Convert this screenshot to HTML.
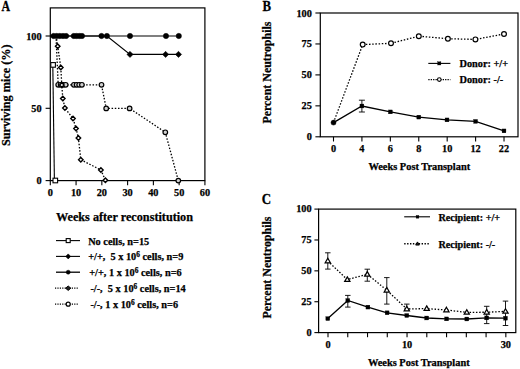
<!DOCTYPE html>
<html><head><meta charset="utf-8"><style>
html,body{margin:0;padding:0;background:#fff;}
svg{display:block;}
text{font-family:"Liberation Serif",serif;font-weight:bold;fill:#000;stroke:#000;stroke-width:0.25px;}
</style></head><body>
<svg width="520" height="369" viewBox="0 0 520 369">
<rect width="520" height="369" fill="#fff"/>
<text x="0" y="0" font-size="13.2" transform="translate(1.4,10.5) scale(0.9,1.05)">A</text>
<rect x="50.3" y="7.9" width="154.6" height="172.7" fill="none" stroke="#000" stroke-width="1.2"/>
<line x1="45.6" y1="36.0" x2="50.3" y2="36.0" stroke="#000" stroke-width="1.1"/>
<text x="41.6" y="39.5" font-size="10.3" text-anchor="end" >100</text>
<line x1="45.6" y1="108.3" x2="50.3" y2="108.3" stroke="#000" stroke-width="1.1"/>
<text x="41.6" y="111.8" font-size="10.3" text-anchor="end" >50</text>
<line x1="45.6" y1="180.6" x2="50.3" y2="180.6" stroke="#000" stroke-width="1.1"/>
<text x="41.6" y="184.1" font-size="10.3" text-anchor="end" >0</text>
<line x1="50.3" y1="180.6" x2="50.3" y2="185.2" stroke="#000" stroke-width="1.1"/>
<text x="50.3" y="195.6" font-size="10.3" text-anchor="middle" >0</text>
<line x1="76.07" y1="180.6" x2="76.07" y2="185.2" stroke="#000" stroke-width="1.1"/>
<text x="76.07" y="195.6" font-size="10.3" text-anchor="middle" >10</text>
<line x1="101.84" y1="180.6" x2="101.84" y2="185.2" stroke="#000" stroke-width="1.1"/>
<text x="101.84" y="195.6" font-size="10.3" text-anchor="middle" >20</text>
<line x1="127.61" y1="180.6" x2="127.61" y2="185.2" stroke="#000" stroke-width="1.1"/>
<text x="127.61" y="195.6" font-size="10.3" text-anchor="middle" >30</text>
<line x1="153.38" y1="180.6" x2="153.38" y2="185.2" stroke="#000" stroke-width="1.1"/>
<text x="153.38" y="195.6" font-size="10.3" text-anchor="middle" >40</text>
<line x1="179.15" y1="180.6" x2="179.15" y2="185.2" stroke="#000" stroke-width="1.1"/>
<text x="179.15" y="195.6" font-size="10.3" text-anchor="middle" >50</text>
<line x1="204.92" y1="180.6" x2="204.92" y2="185.2" stroke="#000" stroke-width="1.1"/>
<text x="204.92" y="195.6" font-size="10.3" text-anchor="middle" >60</text>
<text x="124.5" y="220.5" font-size="12.2" text-anchor="middle" >Weeks after reconstitution</text>
<text x="0" y="0" font-size="12.2" text-anchor="middle" transform="translate(10.2,95.3) rotate(-90)">Surviving mice (%)</text>
<polyline points="52.8,65 54.4,180.5" fill="none" stroke="#000" stroke-width="1.1"/>
<rect x="50.8" y="62.6" width="4.6" height="4.6" fill="#fff" stroke="#000" stroke-width="1.1"/>
<rect x="53.0" y="178.2" width="4.6" height="4.6" fill="#fff" stroke="#000" stroke-width="1.1"/>
<polyline points="56,36 58.2,84.8 60.7,84.8 63.2,84.8 65.7,84.8 73.9,84.8 76.6,84.8 79.2,84.8 81.9,84.8 101.5,84.8 106.2,108.4 129.6,108.4 165.3,132.3 178.3,180.6" fill="none" stroke="#000" stroke-width="1.3" stroke-dasharray="1.5 1.7"/>
<polyline points="56.2,36 57.7,46.2 60.8,67.4 61.8,85.0 62.8,98.4 64.9,108.1 73,118.4 76,128.4 78.4,137.9 80.8,159.7 100.9,170 105.4,180.2" fill="none" stroke="#000" stroke-width="1.3" stroke-dasharray="1.5 1.7"/>
<circle cx="58.2" cy="84.8" r="2.3" fill="#d0d0d0" stroke="#000" stroke-width="1.2"/>
<circle cx="60.7" cy="84.8" r="2.3" fill="#d0d0d0" stroke="#000" stroke-width="1.2"/>
<circle cx="63.2" cy="84.8" r="2.3" fill="#d0d0d0" stroke="#000" stroke-width="1.2"/>
<circle cx="65.7" cy="84.8" r="2.3" fill="#d0d0d0" stroke="#000" stroke-width="1.2"/>
<circle cx="73.9" cy="84.8" r="2.3" fill="#d0d0d0" stroke="#000" stroke-width="1.2"/>
<circle cx="76.6" cy="84.8" r="2.3" fill="#d0d0d0" stroke="#000" stroke-width="1.2"/>
<circle cx="79.2" cy="84.8" r="2.3" fill="#d0d0d0" stroke="#000" stroke-width="1.2"/>
<circle cx="81.9" cy="84.8" r="2.3" fill="#d0d0d0" stroke="#000" stroke-width="1.2"/>
<circle cx="101.5" cy="84.8" r="2.3" fill="#d0d0d0" stroke="#000" stroke-width="1.2"/>
<circle cx="106.2" cy="108.4" r="2.3" fill="#d0d0d0" stroke="#000" stroke-width="1.2"/>
<circle cx="129.6" cy="108.4" r="2.3" fill="#d0d0d0" stroke="#000" stroke-width="1.2"/>
<circle cx="165.3" cy="132.3" r="2.3" fill="#d0d0d0" stroke="#000" stroke-width="1.2"/>
<circle cx="178.3" cy="180.6" r="2.3" fill="#d0d0d0" stroke="#000" stroke-width="1.2"/>
<polygon points="57.7,43.95 59.95,46.2 57.7,48.45 55.45,46.2" fill="#fff" stroke="#000" stroke-width="1.4"/>
<polygon points="60.8,65.15 63.05,67.4 60.8,69.65 58.55,67.4" fill="#fff" stroke="#000" stroke-width="1.4"/>
<polygon points="61.8,82.75 64.05,85.0 61.8,87.25 59.55,85.0" fill="#fff" stroke="#000" stroke-width="1.4"/>
<polygon points="62.8,96.15 65.05,98.4 62.8,100.65 60.55,98.4" fill="#fff" stroke="#000" stroke-width="1.4"/>
<polygon points="64.9,105.85 67.15,108.1 64.9,110.35 62.65,108.1" fill="#fff" stroke="#000" stroke-width="1.4"/>
<polygon points="73,116.15 75.25,118.4 73,120.65 70.75,118.4" fill="#fff" stroke="#000" stroke-width="1.4"/>
<polygon points="76,126.15 78.25,128.4 76,130.65 73.75,128.4" fill="#fff" stroke="#000" stroke-width="1.4"/>
<polygon points="78.4,135.65 80.65,137.9 78.4,140.15 76.15,137.9" fill="#fff" stroke="#000" stroke-width="1.4"/>
<polygon points="80.8,157.45 83.05,159.7 80.8,161.95 78.55,159.7" fill="#fff" stroke="#000" stroke-width="1.4"/>
<polygon points="100.9,167.75 103.15,170 100.9,172.25 98.65,170" fill="#fff" stroke="#000" stroke-width="1.4"/>
<polygon points="105.4,177.95 107.65,180.2 105.4,182.45 103.15,180.2" fill="#fff" stroke="#000" stroke-width="1.4"/>
<polyline points="50.3,36 106.9,36 130,54.4 165.6,54.4 178.5,54.4" fill="none" stroke="#000" stroke-width="1.2"/>
<polygon points="130,51.3 133.1,54.4 130,57.5 126.9,54.4" fill="#000" stroke="#000" stroke-width="0.5"/>
<polygon points="165.6,51.3 168.7,54.4 165.6,57.5 162.5,54.4" fill="#000" stroke="#000" stroke-width="0.5"/>
<polygon points="178.5,51.3 181.6,54.4 178.5,57.5 175.4,54.4" fill="#000" stroke="#000" stroke-width="0.5"/>
<line x1="50.3" y1="36" x2="178.8" y2="36" stroke="#000" stroke-width="1.2"/>
<circle cx="53.6" cy="36" r="2.7" fill="#000" stroke="#000" stroke-width="0.4"/>
<circle cx="56.7" cy="36" r="2.7" fill="#000" stroke="#000" stroke-width="0.4"/>
<circle cx="59.8" cy="36" r="2.7" fill="#000" stroke="#000" stroke-width="0.4"/>
<circle cx="63" cy="36" r="2.7" fill="#000" stroke="#000" stroke-width="0.4"/>
<circle cx="66.1" cy="36" r="2.7" fill="#000" stroke="#000" stroke-width="0.4"/>
<circle cx="73.8" cy="36" r="2.7" fill="#000" stroke="#000" stroke-width="0.4"/>
<circle cx="76.5" cy="36" r="2.7" fill="#000" stroke="#000" stroke-width="0.4"/>
<circle cx="79.3" cy="36" r="2.7" fill="#000" stroke="#000" stroke-width="0.4"/>
<circle cx="82" cy="36" r="2.7" fill="#000" stroke="#000" stroke-width="0.4"/>
<circle cx="101.5" cy="36" r="2.7" fill="#000" stroke="#000" stroke-width="0.4"/>
<circle cx="106.9" cy="36" r="2.7" fill="#000" stroke="#000" stroke-width="0.4"/>
<circle cx="130" cy="36" r="2.7" fill="#000" stroke="#000" stroke-width="0.4"/>
<circle cx="166" cy="36" r="2.7" fill="#000" stroke="#000" stroke-width="0.4"/>
<circle cx="178.8" cy="36" r="2.7" fill="#000" stroke="#000" stroke-width="0.4"/>
<line x1="56" y1="240.6" x2="80" y2="240.6" stroke="#000" stroke-width="1.1"/>
<rect x="66.2" y="238.6" width="4.0" height="4.0" fill="#fff" stroke="#000" stroke-width="1.1"/>
<line x1="56" y1="256.4" x2="80" y2="256.4" stroke="#000" stroke-width="1.1"/>
<polygon points="68.2,253.9 70.7,256.4 68.2,258.9 65.7,256.4" fill="#000" stroke="#000" stroke-width="0.6"/>
<line x1="56" y1="272.2" x2="80" y2="272.2" stroke="#000" stroke-width="1.3"/>
<circle cx="68.2" cy="272.2" r="2.0" fill="#000" stroke="#000" stroke-width="0.5"/>
<line x1="55" y1="288.2" x2="79" y2="288.2" stroke="#000" stroke-width="1.2" stroke-dasharray="1.2 1.2"/>
<polygon points="68.2,286.0 70.8,288.2 68.2,290.4 65.6,288.2" fill="#222" stroke="#000" stroke-width="1"/>
<line x1="55" y1="304.2" x2="79" y2="304.2" stroke="#000" stroke-width="1.2" stroke-dasharray="1.2 1.2"/>
<circle cx="68.2" cy="304.2" r="2.0" fill="#fff" stroke="#000" stroke-width="1.2"/>
<text x="88.2" y="244.6" font-size="10.3" text-anchor="start" >No cells, n=15</text>
<text x="88.2" y="260.4" font-size="10.3" xml:space="preserve">+/+,  5 x 10<tspan font-size="7.4" dy="-3.7">6</tspan><tspan dy="3.7"> cells, n=9</tspan></text>
<text x="89.2" y="276.2" font-size="10.3" xml:space="preserve">+/+, 1 x 10<tspan font-size="7.4" dy="-3.7">6</tspan><tspan dy="3.7"> cells, n=6</tspan></text>
<text x="90.4" y="292.2" font-size="10.3" xml:space="preserve">-/-,  5 x 10<tspan font-size="7.4" dy="-3.7">6</tspan><tspan dy="3.7"> cells, n=14</tspan></text>
<text x="90.4" y="308.2" font-size="10.3" xml:space="preserve">-/-, 1 x 10<tspan font-size="7.4" dy="-3.7">6</tspan><tspan dy="3.7"> cells, n=6</tspan></text>
<text x="0" y="0" font-size="13.2" transform="translate(262.6,10.6) scale(0.97,1.06)">B</text>
<rect x="320.3" y="13.0" width="197.7" height="123.8" fill="none" stroke="#000" stroke-width="1.2"/>
<line x1="315.4" y1="13" x2="320.3" y2="13" stroke="#000" stroke-width="1.1"/>
<text x="311.9" y="16.5" font-size="10.3" text-anchor="end" >100</text>
<line x1="315.4" y1="43.95" x2="320.3" y2="43.95" stroke="#000" stroke-width="1.1"/>
<text x="311.9" y="47.45" font-size="10.3" text-anchor="end" >75</text>
<line x1="315.4" y1="74.9" x2="320.3" y2="74.9" stroke="#000" stroke-width="1.1"/>
<text x="311.9" y="78.4" font-size="10.3" text-anchor="end" >50</text>
<line x1="315.4" y1="105.85" x2="320.3" y2="105.85" stroke="#000" stroke-width="1.1"/>
<text x="311.9" y="109.35" font-size="10.3" text-anchor="end" >25</text>
<line x1="315.4" y1="136.8" x2="320.3" y2="136.8" stroke="#000" stroke-width="1.1"/>
<text x="311.9" y="140.3" font-size="10.3" text-anchor="end" >0</text>
<line x1="333.5" y1="136.8" x2="333.5" y2="141.5" stroke="#000" stroke-width="1.1"/>
<text x="333.5" y="151.8" font-size="10.3" text-anchor="middle" >0</text>
<line x1="361.92" y1="136.8" x2="361.92" y2="141.5" stroke="#000" stroke-width="1.1"/>
<text x="361.92" y="151.8" font-size="10.3" text-anchor="middle" >4</text>
<line x1="390.34" y1="136.8" x2="390.34" y2="141.5" stroke="#000" stroke-width="1.1"/>
<text x="390.34" y="151.8" font-size="10.3" text-anchor="middle" >6</text>
<line x1="418.76" y1="136.8" x2="418.76" y2="141.5" stroke="#000" stroke-width="1.1"/>
<text x="418.76" y="151.8" font-size="10.3" text-anchor="middle" >8</text>
<line x1="447.18" y1="136.8" x2="447.18" y2="141.5" stroke="#000" stroke-width="1.1"/>
<text x="447.18" y="151.8" font-size="10.3" text-anchor="middle" >10</text>
<line x1="475.6" y1="136.8" x2="475.6" y2="141.5" stroke="#000" stroke-width="1.1"/>
<text x="475.6" y="151.8" font-size="10.3" text-anchor="middle" >12</text>
<line x1="504.02" y1="136.8" x2="504.02" y2="141.5" stroke="#000" stroke-width="1.1"/>
<text x="504.02" y="151.8" font-size="10.3" text-anchor="middle" >22</text>
<text x="419.3" y="169.6" font-size="10.4" text-anchor="middle" >Weeks Post Transplant</text>
<text x="0" y="0" font-size="11.95" text-anchor="middle" transform="translate(271.2,72.6) rotate(-90)">Percent Neutrophils</text>
<polyline points="333.5,122.6 362.7,44.6 391,43.3 418.8,36.2 447.9,38.7 475.4,39.4 504,34" fill="none" stroke="#000" stroke-width="1.3" stroke-dasharray="1.5 1.7"/>
<polyline points="333.5,122.6 361.9,106 390.4,111.9 418.8,117.1 447,119.9 475.6,121.4 504,130.9" fill="none" stroke="#000" stroke-width="1.3"/>
<line x1="361.9" y1="100.2" x2="361.9" y2="112" stroke="#000" stroke-width="0.9"/>
<line x1="358.9" y1="100.2" x2="364.9" y2="100.2" stroke="#000" stroke-width="0.9"/>
<line x1="358.9" y1="112" x2="364.9" y2="112" stroke="#000" stroke-width="0.9"/>
<circle cx="362.7" cy="44.6" r="2.4" fill="#fff" stroke="#000" stroke-width="1.2"/>
<circle cx="391" cy="43.3" r="2.4" fill="#fff" stroke="#000" stroke-width="1.2"/>
<circle cx="418.8" cy="36.2" r="2.4" fill="#fff" stroke="#000" stroke-width="1.2"/>
<circle cx="447.9" cy="38.7" r="2.4" fill="#fff" stroke="#000" stroke-width="1.2"/>
<circle cx="475.4" cy="39.4" r="2.4" fill="#fff" stroke="#000" stroke-width="1.2"/>
<circle cx="504" cy="34" r="2.4" fill="#fff" stroke="#000" stroke-width="1.2"/>
<rect x="359.95" y="104.05" width="3.9" height="3.9" fill="#000" stroke="#000" stroke-width="0.3"/>
<rect x="388.45" y="109.95" width="3.9" height="3.9" fill="#000" stroke="#000" stroke-width="0.3"/>
<rect x="416.85" y="115.15" width="3.9" height="3.9" fill="#000" stroke="#000" stroke-width="0.3"/>
<rect x="445.05" y="117.95" width="3.9" height="3.9" fill="#000" stroke="#000" stroke-width="0.3"/>
<rect x="473.65" y="119.45" width="3.9" height="3.9" fill="#000" stroke="#000" stroke-width="0.3"/>
<rect x="502.05" y="128.95" width="3.9" height="3.9" fill="#000" stroke="#000" stroke-width="0.3"/>
<circle cx="333.5" cy="122.6" r="2.5" fill="#000" stroke="#000" stroke-width="0.5"/>
<line x1="428.3" y1="63.4" x2="450.4" y2="63.4" stroke="#000" stroke-width="1.1"/>
<rect x="437.7" y="61.8" width="3.2" height="3.2" fill="#000" stroke="#000" stroke-width="0.3"/>
<line x1="428.3" y1="79.6" x2="450.4" y2="79.6" stroke="#000" stroke-width="1.4" stroke-dasharray="1.3 1.1"/>
<circle cx="439.3" cy="79.6" r="1.8" fill="#fff" stroke="#000" stroke-width="1.1"/>
<text x="459.6" y="66.8" font-size="10.25" text-anchor="start" >Donor: +/+</text>
<text x="459.6" y="83.1" font-size="10.25" text-anchor="start" >Donor: -/-</text>
<text x="0" y="0" font-size="13.2" transform="translate(261.8,203.6) scale(0.98,1.04)">C</text>
<rect x="318.6" y="209.1" width="197.2" height="123.5" fill="none" stroke="#000" stroke-width="1.2"/>
<line x1="314.4" y1="209.1" x2="318.6" y2="209.1" stroke="#000" stroke-width="1.1"/>
<text x="311.6" y="212.2" font-size="10.3" text-anchor="end" >100</text>
<line x1="314.4" y1="239.98" x2="318.6" y2="239.98" stroke="#000" stroke-width="1.1"/>
<text x="311.6" y="243.08" font-size="10.3" text-anchor="end" >75</text>
<line x1="314.4" y1="270.85" x2="318.6" y2="270.85" stroke="#000" stroke-width="1.1"/>
<text x="311.6" y="273.95" font-size="10.3" text-anchor="end" >50</text>
<line x1="314.4" y1="301.73" x2="318.6" y2="301.73" stroke="#000" stroke-width="1.1"/>
<text x="311.6" y="304.83" font-size="10.3" text-anchor="end" >25</text>
<line x1="314.4" y1="332.6" x2="318.6" y2="332.6" stroke="#000" stroke-width="1.1"/>
<text x="311.6" y="335.7" font-size="10.3" text-anchor="end" >0</text>
<line x1="328.0" y1="332.6" x2="328.0" y2="337.2" stroke="#000" stroke-width="1.1"/>
<line x1="347.76" y1="332.6" x2="347.76" y2="337.2" stroke="#000" stroke-width="1.1"/>
<line x1="367.52" y1="332.6" x2="367.52" y2="337.2" stroke="#000" stroke-width="1.1"/>
<line x1="387.28" y1="332.6" x2="387.28" y2="337.2" stroke="#000" stroke-width="1.1"/>
<line x1="407.04" y1="332.6" x2="407.04" y2="337.2" stroke="#000" stroke-width="1.1"/>
<line x1="426.8" y1="332.6" x2="426.8" y2="337.2" stroke="#000" stroke-width="1.1"/>
<line x1="446.56" y1="332.6" x2="446.56" y2="337.2" stroke="#000" stroke-width="1.1"/>
<line x1="466.32" y1="332.6" x2="466.32" y2="337.2" stroke="#000" stroke-width="1.1"/>
<line x1="486.08" y1="332.6" x2="486.08" y2="337.2" stroke="#000" stroke-width="1.1"/>
<line x1="505.84" y1="332.6" x2="505.84" y2="337.2" stroke="#000" stroke-width="1.1"/>
<text x="328.0" y="347.7" font-size="10.3" text-anchor="middle" >0</text>
<text x="407.04" y="347.7" font-size="10.3" text-anchor="middle" >10</text>
<text x="505.84" y="347.7" font-size="10.3" text-anchor="middle" >30</text>
<text x="418.8" y="365.6" font-size="10.4" text-anchor="middle" >Weeks Post Transplant</text>
<text x="0" y="0" font-size="11.95" text-anchor="middle" transform="translate(270.8,267.6) rotate(-90)">Percent Neutrophils</text>
<polyline points="327.8,261 347.3,279.6 367.3,274.3 386.8,290.2 406.8,309 426.7,308.6 446.4,310 466.8,312.4 486.7,312.2 505.5,311.4" fill="none" stroke="#000" stroke-width="1.3" stroke-dasharray="1.5 1.7"/>
<polyline points="327.8,318.6 347.8,300.5 367.9,307.1 387.1,312.8 406.8,315.5 426.7,318 446.6,318.9 466.8,319 486.7,317.9 505.5,318.2" fill="none" stroke="#000" stroke-width="1.3"/>
<line x1="327.8" y1="252.8" x2="327.8" y2="269.1" stroke="#000" stroke-width="0.9"/>
<line x1="325.05" y1="252.8" x2="330.55" y2="252.8" stroke="#000" stroke-width="0.9"/>
<line x1="325.05" y1="269.1" x2="330.55" y2="269.1" stroke="#000" stroke-width="0.9"/>
<line x1="367.3" y1="269.2" x2="367.3" y2="281.2" stroke="#000" stroke-width="0.9"/>
<line x1="364.55" y1="269.2" x2="370.05" y2="269.2" stroke="#000" stroke-width="0.9"/>
<line x1="364.55" y1="281.2" x2="370.05" y2="281.2" stroke="#000" stroke-width="0.9"/>
<line x1="386.8" y1="277.6" x2="386.8" y2="304.1" stroke="#000" stroke-width="0.9"/>
<line x1="384.05" y1="277.6" x2="389.55" y2="277.6" stroke="#000" stroke-width="0.9"/>
<line x1="384.05" y1="304.1" x2="389.55" y2="304.1" stroke="#000" stroke-width="0.9"/>
<line x1="406.8" y1="304.1" x2="406.8" y2="309" stroke="#000" stroke-width="0.9"/>
<line x1="404.05" y1="304.1" x2="409.55" y2="304.1" stroke="#000" stroke-width="0.9"/>
<line x1="404.05" y1="309" x2="409.55" y2="309" stroke="#000" stroke-width="0.9"/>
<line x1="347.8" y1="295.4" x2="347.8" y2="307.1" stroke="#000" stroke-width="0.9"/>
<line x1="345.05" y1="295.4" x2="350.55" y2="295.4" stroke="#000" stroke-width="0.9"/>
<line x1="345.05" y1="307.1" x2="350.55" y2="307.1" stroke="#000" stroke-width="0.9"/>
<line x1="486.7" y1="306.3" x2="486.7" y2="323.6" stroke="#000" stroke-width="0.9"/>
<line x1="483.95" y1="306.3" x2="489.45" y2="306.3" stroke="#000" stroke-width="0.9"/>
<line x1="483.95" y1="323.6" x2="489.45" y2="323.6" stroke="#000" stroke-width="0.9"/>
<line x1="505.5" y1="301.1" x2="505.5" y2="325.5" stroke="#000" stroke-width="0.9"/>
<line x1="502.75" y1="301.1" x2="508.25" y2="301.1" stroke="#000" stroke-width="0.9"/>
<line x1="502.75" y1="325.5" x2="508.25" y2="325.5" stroke="#000" stroke-width="0.9"/>
<polygon points="327.8,258.29 330.4,262.81 325.2,262.81" fill="#fff" stroke="#000" stroke-width="1.25"/>
<polygon points="347.3,276.89 349.9,281.41 344.7,281.41" fill="#fff" stroke="#000" stroke-width="1.25"/>
<polygon points="367.3,271.59 369.9,276.11 364.7,276.11" fill="#fff" stroke="#000" stroke-width="1.25"/>
<polygon points="386.8,287.49 389.4,292.01 384.2,292.01" fill="#fff" stroke="#000" stroke-width="1.25"/>
<polygon points="406.8,306.29 409.4,310.81 404.2,310.81" fill="#fff" stroke="#000" stroke-width="1.25"/>
<polygon points="426.7,305.89 429.3,310.41 424.1,310.41" fill="#fff" stroke="#000" stroke-width="1.25"/>
<polygon points="446.4,307.29 449.0,311.81 443.8,311.81" fill="#fff" stroke="#000" stroke-width="1.25"/>
<polygon points="466.8,309.69 469.4,314.21 464.2,314.21" fill="#fff" stroke="#000" stroke-width="1.25"/>
<polygon points="486.7,309.49 489.3,314.01 484.1,314.01" fill="#fff" stroke="#000" stroke-width="1.25"/>
<polygon points="505.5,308.69 508.1,313.21 502.9,313.21" fill="#fff" stroke="#000" stroke-width="1.25"/>
<rect x="325.85" y="316.65" width="3.9" height="3.9" fill="#000" stroke="#000" stroke-width="0.3"/>
<rect x="345.85" y="298.55" width="3.9" height="3.9" fill="#000" stroke="#000" stroke-width="0.3"/>
<rect x="365.95" y="305.15" width="3.9" height="3.9" fill="#000" stroke="#000" stroke-width="0.3"/>
<rect x="385.15" y="310.85" width="3.9" height="3.9" fill="#000" stroke="#000" stroke-width="0.3"/>
<rect x="404.85" y="313.55" width="3.9" height="3.9" fill="#000" stroke="#000" stroke-width="0.3"/>
<rect x="424.75" y="316.05" width="3.9" height="3.9" fill="#000" stroke="#000" stroke-width="0.3"/>
<rect x="444.65" y="316.95" width="3.9" height="3.9" fill="#000" stroke="#000" stroke-width="0.3"/>
<rect x="464.85" y="317.05" width="3.9" height="3.9" fill="#000" stroke="#000" stroke-width="0.3"/>
<rect x="484.75" y="315.95" width="3.9" height="3.9" fill="#000" stroke="#000" stroke-width="0.3"/>
<rect x="503.55" y="316.25" width="3.9" height="3.9" fill="#000" stroke="#000" stroke-width="0.3"/>
<line x1="404.2" y1="216.8" x2="430" y2="216.8" stroke="#000" stroke-width="1.1"/>
<rect x="416.1" y="215.4" width="2.8" height="2.8" fill="#000" stroke="#000" stroke-width="0.3"/>
<line x1="404.2" y1="243.8" x2="430" y2="243.8" stroke="#000" stroke-width="1.4" stroke-dasharray="1.4 1.5"/>
<polygon points="417.5,241.92 419.3,245.05 415.7,245.05" fill="#222" stroke="#000" stroke-width="1.0"/>
<text x="438.4" y="221.1" font-size="10.2" text-anchor="start" >Recipient: +/+</text>
<text x="438.4" y="248.4" font-size="10.2" text-anchor="start" >Recipient: -/-</text>
</svg>
</body></html>
